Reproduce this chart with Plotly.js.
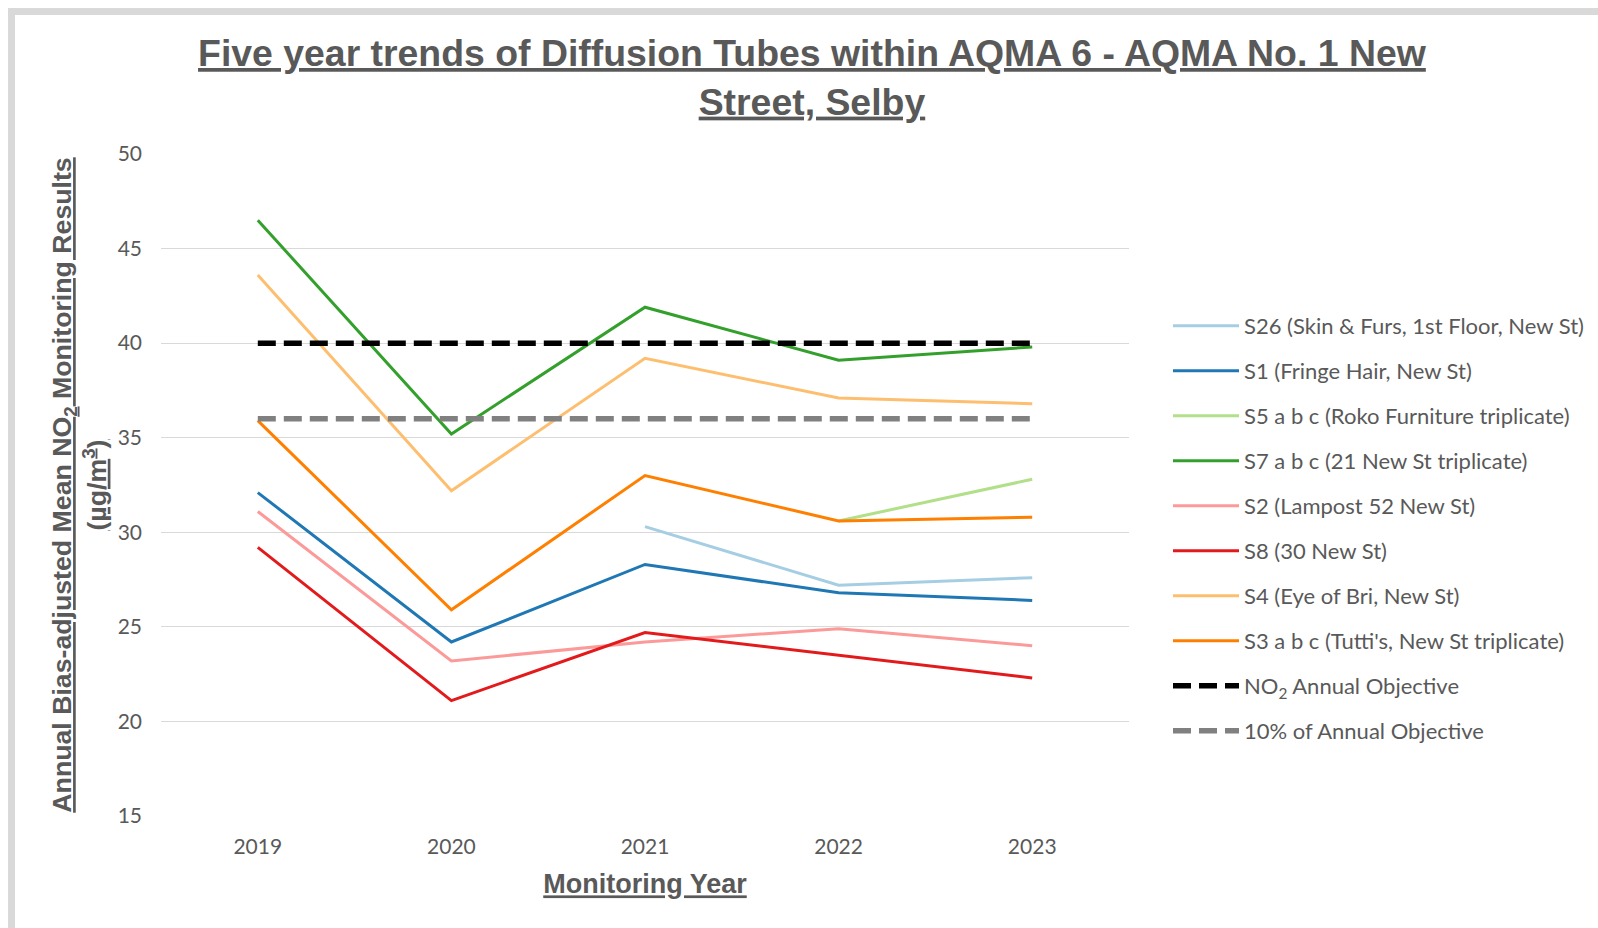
<!DOCTYPE html>
<html>
<head>
<meta charset="utf-8">
<script src="https://cdn.plot.ly/plotly-3.0.1.min.js"></script>
<style>
  html, body { margin:0; padding:0; background:#ffffff; }
  #frame { position:absolute; left:8px; top:8px; width:1590px; height:920px;
           border-left:7px solid #d9d9d9; border-top:7px solid #d9d9d9; box-sizing:border-box; }
  #chart { position:absolute; left:0; top:0; width:1598px; height:928px; }
</style>
</head>
<body>
<div id="frame"></div>
<div id="chart"></div>
<script>
// ---- data ----
const years = ['2019', '2020', '2021', '2022', '2023'];
const s26 = [null, null, 30.3, 27.2, 27.6];
const s1  = [32.1, 24.2, 28.3, 26.8, 26.4];
const s5  = [null, null, null, 30.6, 32.8];
const s7  = [46.5, 35.2, 41.9, 39.1, 39.8];
const s2  = [31.1, 23.2, 24.2, 24.9, 24.0];
const s8  = [29.2, 21.1, 24.7, 23.5, 22.3];
const s4  = [43.6, 32.2, 39.2, 37.1, 36.8];
const s3  = [35.9, 25.9, 33.0, 30.6, 30.8];
const annualObjective = [40, 40, 40, 40, 40];
const tenPctObjective = [36, 36, 36, 36, 36];

const seriesNames = [
  'S26 (Skin &amp; Furs, 1st Floor, New St)',
  'S1 (Fringe Hair, New St)',
  'S5 a b c (Roko Furniture triplicate)',
  'S7 a b c (21 New St triplicate)',
  'S2 (Lampost 52 New St)',
  'S8 (30 New St)',
  'S4 (Eye of Bri, New St)',
  "S3 a b c (Tutti's, New St triplicate)",
  'NO<sub>2</sub> Annual Objective',
  '10% of Annual Objective'
];
const seriesValues = [s26, s1, s5, s7, s2, s8, s4, s3, annualObjective, tenPctObjective];
const seriesColors = ['#a6cee3', '#1f78b4', '#b2df8a', '#33a02c', '#fb9a99', '#e31a1c', '#fdbf6f', '#ff7f00', '#000000', '#808080'];

const traces = seriesValues.map((vals, i) => {
  const dashed = i >= 8;
  return {
    type: 'scatter',
    mode: 'lines',
    x: years,
    y: vals,
    name: seriesNames[i],
    legendgroup: 'g' + i,
    line: { color: seriesColors[i], width: dashed ? 5.5 : 3, dash: dashed ? '18px,8px' : 'solid' },
    connectgaps: false,
    hoverinfo: 'x+y+name'
  };
});

const grey = '#595959';
const layout = {
  width: 1598,
  height: 928,
  paper_bgcolor: 'rgba(0,0,0,0)',
  plot_bgcolor: 'rgba(0,0,0,0)',
  margin: { l: 161, r: 469, t: 154, b: 112 },
  font: { family: 'Lato, "Open Sans", sans-serif', color: grey },
  title: {
    text: 'Five year trends of Diffusion Tubes within AQMA 6 - AQMA No. 1 New<br>Street, Selby',
    font: { family: '"Liberation Sans", Arial, sans-serif', size: 37.4, weight: 700, color: grey, lineposition: 'under' },
    xref: 'container', x: 0.5081, xanchor: 'center',
    yref: 'container', y: 1 - 66 / 928, yanchor: 'top'
  },
  xaxis: {
    type: 'category',
    range: [-0.5, 4.5],
    showgrid: false,
    zeroline: false,
    showline: false,
    ticks: '',
    ticklabelstandoff: 16,
    tickfont: { family: 'Lato, sans-serif', size: 21, color: grey },
    title: {
      text: 'Monitoring Year',
      font: { family: '"Liberation Sans", Arial, sans-serif', size: 27, weight: 700, color: grey, lineposition: 'under' },
      standoff: 17
    }
  },
  yaxis: {
    range: [15, 50],
    dtick: 5,
    tick0: 0,
    showgrid: true,
    gridcolor: '#d9d9d9',
    gridwidth: 1.4,
    zeroline: false,
    showline: false,
    ticks: '',
    ticklabelstandoff: 18,
    tickfont: { family: 'Lato, sans-serif', size: 21, color: grey },
    title: {
      text: 'Annual Bias-adjusted Mean NO<sub>2</sub> Monitoring Results<br>(µg/m<sup>3</sup>)',
      font: { family: '"Liberation Sans", Arial, sans-serif', size: 26.7, weight: 700, color: grey, lineposition: 'under' },
      standoff: 3
    }
  },
  showlegend: true,
  legend: {
    xref: 'container', yref: 'container',
    x: 1168 / 1598, xanchor: 'left',
    y: 1 - 305 / 928, yanchor: 'top',
    traceorder: 'grouped',
    tracegroupgap: 13.4,
    itemwidth: 66,
    font: { family: 'Lato, sans-serif', size: 22, color: grey },
    bgcolor: 'rgba(0,0,0,0)'
  }
};

Plotly.newPlot('chart', traces, layout, { displayModeBar: false, responsive: false });
</script>
</body>
</html>
